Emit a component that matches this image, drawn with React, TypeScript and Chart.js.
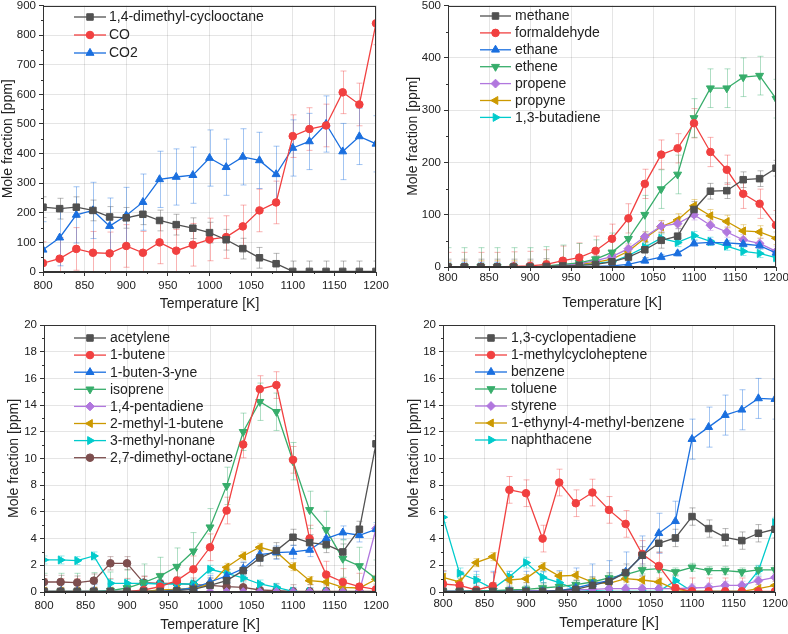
import React, { useEffect, useRef } from 'react';
import { Chart, registerables } from 'chart.js';
Chart.register(...registerables);
Chart.defaults.font.family = "'Liberation Sans', Arial, sans-serif";
Chart.defaults.color = '#222';

const temps = [800, 820, 840, 860, 880, 900, 920, 940, 960, 980, 1000, 1020, 1040, 1060, 1080, 1100, 1120, 1140, 1160, 1180, 1200];

// Panel 1
const p1Names = ['1,4-dimethyl-cyclooctane', 'CO', 'CO2'];
const dimethylCyclooctane = [219, 214, 219, 208, 186, 183, 195, 174, 160, 148, 133, 109, 79, 48, 28, 2, 2, 2, 2, 2, 2];
const co = [30, 45, 78, 65, 63, 88, 65, 100, 72, 92, 110, 118, 154, 208, 235, 459, 483, 495, 607, 566, 840];
const co2 = [75, 116, 193, 208, 155, 191, 236, 313, 321, 327, 385, 354, 389, 377, 330, 419, 441, 500, 407, 458, 433];
const p1Err = [35, 72, 95];

// Panel 2
const p2Names = ['methane', 'formaldehyde', 'ethane', 'ethene', 'propene', 'propyne', '1,3-butadiene'];
const methane = [0, 0, 0, 0, 0, 0, 1, 2, 3, 5, 10, 19, 33, 51, 59, 110, 145, 146, 167, 169, 189];
const formaldehyde = [0, 0, 0, 0, 1, 2, 5, 12, 18, 31, 54, 93, 159, 215, 227, 275, 220, 186, 140, 121, 80];
const ethane = [0, 0, 0, 0, 0, 0, 0, 0, 1, 1, 2, 5, 12, 19, 26, 45, 47, 46, 44, 41, 27];
const ethene = [0, 0, 0, 0, 0, 0, 2, 5, 8, 15, 28, 54, 100, 149, 177, 285, 342, 342, 363, 366, 322];
const propene = [0, 0, 0, 0, 0, 0, 1, 4, 6, 12, 20, 35, 58, 78, 83, 100, 80, 67, 52, 45, 30];
const propyne = [0, 0, 0, 0, 0, 0, 1, 3, 5, 9, 15, 30, 55, 77, 90, 117, 98, 87, 69, 67, 55];
const butadiene = [0, 0, 0, 0, 0, 0, 1, 3, 4, 7, 10, 22, 38, 55, 47, 60, 49, 40, 30, 26, 18];
const p2Err = [15, 28, 5, 37, 10, 12, 8];

// Panel 3
const p3Names = ['acetylene', '1-butene', '1-buten-3-yne', 'isoprene', '1,4-pentadiene', '2-methyl-1-butene', '3-methyl-nonane', '2,7-dimethyl-octane'];
const acetylene = [0.05, 0.05, 0.05, 0.05, 0.05, 0.05, 0.05, 0.05, 0.1, 0.2, 0.5, 0.85, 1.6, 2.55, 3.1, 4.1, 3.7, 3.55, 3.0, 4.7, 11.1];
const butene1 = [0, 0, 0, 0, 0, 0.02, 0.15, 0.4, 0.85, 1.7, 3.35, 6.1, 11.05, 15.2, 15.5, 9.9, 4.0, 1.3, 0.75, 0.4, 0.2];
const butenyne = [0.05, 0.05, 0.05, 0.05, 0.05, 0.05, 0.05, 0.05, 0.15, 0.3, 0.75, 1.2, 1.75, 2.8, 2.95, 3.0, 3.15, 4.0, 4.45, 4.25, 4.7];
const isoprene = [0, 0, 0, 0.05, 0.1, 0.3, 0.7, 1.2, 1.9, 3.05, 4.85, 7.95, 12.0, 14.25, 13.5, 9.8, 6.15, 4.65, 2.5, 1.95, 1.0];
const pentadiene = [0, 0, 0, 0, 0, 0, 0, 0, 0, 0, 0, 0, 0, 0, 0, 0, 0, 0, 0, 0.05, 4.75];
const methylButene = [0.05, 0.05, 0.05, 0.05, 0.05, 0.05, 0.05, 0.15, 0.2, 0.3, 0.55, 1.85, 2.7, 3.35, 3.0, 1.9, 0.85, 0.75, 0.35, 0.3, 0.95];
const methylNonane = [2.4, 2.4, 2.35, 2.7, 0.65, 0.65, 0.65, 0.6, 0.6, 0.6, 1.7, 1.4, 1.05, 0.6, 0.35, 0.05, 0.02, 0.02, 0.02, 0.02, 0.02];
const dimethylOctane = [0.75, 0.75, 0.7, 0.85, 2.15, 2.15, 0.7, 0.65, 0.65, 0.55, 0.5, 0.4, 0.35, 0.15, 0.1, 0.05, 0.05, 0.05, 0.05, 0.05, 0.05];
const p3Err = [0.6, 1.0, 0.5, 1.4, 0.3, 0.3, 0.3, 0.5];

// Panel 4
const p4Names = ['1,3-cyclopentadiene', '1-methylcycloheptene', 'benzene', 'toluene', 'styrene', '1-ethynyl-4-methyl-benzene', 'naphthacene'];
const cyclopentadiene = [0.05, 0.05, 0.05, 0.05, 0.05, 0.05, 0.05, 0.1, 0.2, 0.5, 0.8, 1.45, 2.75, 3.65, 4.05, 5.65, 4.75, 4.1, 3.85, 4.4, 4.7];
const methylcycloheptene = [0.6, 0.5, 0.15, 0.45, 7.65, 7.4, 4.0, 8.2, 6.65, 7.45, 6.15, 5.1, 2.85, 1.95, 0.3, 0.05, 0.05, 0.05, 0.05, 0.05, 0.05];
const benzene = [0.05, 0.05, 0.05, 0.05, 0.05, 0.05, 0.05, 0.1, 0.3, 0.6, 0.85, 1.5, 2.7, 4.4, 5.3, 11.45, 12.35, 13.25, 13.65, 14.5, 14.45];
const toluene = [0.05, 0.05, 0.1, 0.1, 0.15, 0.2, 0.3, 0.4, 0.55, 0.75, 1.05, 1.3, 1.65, 1.75, 1.5, 1.85, 1.6, 1.6, 1.5, 1.65, 1.65];
const styrene = [0.05, 0.05, 0.05, 0.05, 0.1, 0.1, 0.1, 0.1, 0.15, 0.2, 0.25, 0.25, 0.25, 0.25, 0.25, 0.3, 0.35, 0.5, 0.5, 0.85, 1.1];
const ethynylMethylBenzene = [1.1, 0.75, 2.2, 2.65, 0.9, 1.0, 1.9, 1.2, 1.25, 0.75, 0.65, 1.0, 0.9, 0.75, 0.2, 0.05, 0.05, 0.05, 0.05, 0.25, 0.5];
const naphthacene = [5.6, 1.4, 0.9, 0.25, 1.15, 2.2, 1.1, 0.7, 0.2, 0.1, 0.05, 0.05, 0.05, 0.05, 0.85, 0.05, 0.05, 0.05, 0.05, 1.6, 5.2];
const p4Err = [0.65, 1.0, 1.5, 0.3, 0.3, 0.3, 0.4];

// Styles
const COLORS = ['#515151', '#F14040', '#1A6FDF', '#37AD6B', '#B177DE', '#CC9900', '#00CBCC', '#7D4E4E'];
const MARKERS: { style: string; rot: number; r: number }[] = [
  { style: 'rect', rot: 0, r: 4.6 },
  { style: 'circle', rot: 0, r: 3.8 },
  { style: 'triangle', rot: 0, r: 4.6 },
  { style: 'triangle', rot: 180, r: 4.6 },
  { style: 'rectRot', rot: 0, r: 4.4 },
  { style: 'triangle', rot: 270, r: 4.6 },
  { style: 'triangle', rot: 90, r: 4.6 },
  { style: 'circle', rot: 0, r: 3.8 },
];

const W = 394;
const H = 317;

type Geom = { left: number; right: number; top: number; bottom: number; xTickPad: number; xTitlePad: number; yTitlePad: number };
type Leg = { x1: number; x2: number; tx: number; y0: number; dy: number };
type PanelCfg = { names: string[]; series: number[][]; errs: number[]; yMax: number; yStep: number; geom: Geom; legend: Leg };

const panels: { cfg: PanelCfg; left: number; top: number }[] = [
  {
    left: 0, top: 0,
    cfg: {
      names: p1Names, series: [dimethylCyclooctane, co, co2], errs: p1Err, yMax: 900, yStep: 100,
      geom: { left: 43, right: 376, top: 5, bottom: 272, xTickPad: 3, xTitlePad: 4, yTitlePad: 0 },
      legend: { x1: 74, x2: 106, tx: 109, y0: 17, dy: 18 },
    },
  },
  {
    left: 394, top: 0,
    cfg: {
      names: p2Names, series: [methane, formaldehyde, ethane, ethene, propene, propyne, butadiene], errs: p2Err, yMax: 500, yStep: 100,
      geom: { left: 54, right: 382, top: 5, bottom: 267, xTickPad: 0, xTitlePad: 5, yTitlePad: 11 },
      legend: { x1: 86, x2: 117, tx: 121, y0: 16, dy: 16.9 },
    },
  },
  {
    left: 0, top: 317,
    cfg: {
      names: p3Names, series: [acetylene, butene1, butenyne, isoprene, pentadiene, methylButene, methylNonane, dimethylOctane], errs: p3Err, yMax: 20, yStep: 2,
      geom: { left: 44, right: 376, top: 8, bottom: 275, xTickPad: 3, xTitlePad: 0, yTitlePad: 6 },
      legend: { x1: 74, x2: 106, tx: 110, y0: 21, dy: 17.1 },
    },
  },
  {
    left: 394, top: 317,
    cfg: {
      names: p4Names, series: [cyclopentadiene, methylcycloheptene, benzene, toluene, styrene, ethynylMethylBenzene, naphthacene], errs: p4Err, yMax: 20, yStep: 2,
      geom: { left: 49, right: 381, top: 8, bottom: 275, xTickPad: 1, xTitlePad: 2, yTitlePad: 12 },
      legend: { x1: 81, x2: 113, tx: 117, y0: 21, dy: 17 },
    },
  },
];

function rgba(hex: string, a: number) {
  const n = parseInt(hex.slice(1), 16);
  return `rgba(${(n >> 16) & 255},${(n >> 8) & 255},${n & 255},${a})`;
}

function drawMarker(ctx: CanvasRenderingContext2D, style: string, rot: number, x: number, y: number, r: number, color: string) {
  ctx.save();
  ctx.fillStyle = color;
  ctx.strokeStyle = color;
  ctx.lineWidth = 1;
  ctx.beginPath();
  if (style === 'circle') {
    ctx.arc(x, y, r, 0, Math.PI * 2);
  } else if (style === 'rect') {
    const s = r * Math.SQRT1_2;
    ctx.rect(x - s, y - s, 2 * s, 2 * s);
  } else if (style === 'rectRot') {
    ctx.moveTo(x, y - r);
    ctx.lineTo(x + r, y);
    ctx.lineTo(x, y + r);
    ctx.lineTo(x - r, y);
    ctx.closePath();
  } else {
    let rad = (rot * Math.PI) / 180;
    ctx.moveTo(x + Math.sin(rad) * r, y - Math.cos(rad) * r);
    rad += (2 * Math.PI) / 3;
    ctx.lineTo(x + Math.sin(rad) * r, y - Math.cos(rad) * r);
    rad += (2 * Math.PI) / 3;
    ctx.lineTo(x + Math.sin(rad) * r, y - Math.cos(rad) * r);
    ctx.closePath();
  }
  ctx.fill();
  ctx.stroke();
  ctx.restore();
}

function makePlugin(cfg: PanelCfg) {
  return {
    id: 'decor',
    beforeDatasetsDraw(chart: any) {
      const { ctx, chartArea } = chart;
      const ys = chart.scales.y;
      ctx.save();
      ctx.beginPath();
      ctx.rect(chartArea.left, chartArea.top, chartArea.right - chartArea.left, chartArea.bottom - chartArea.top);
      ctx.clip();
      cfg.series.forEach((s, i) => {
        const meta = chart.getDatasetMeta(i);
        const e = cfg.errs[i];
        ctx.strokeStyle = rgba(COLORS[i], 0.4);
        ctx.lineWidth = 1;
        s.forEach((v, j) => {
          const pt = meta.data[j];
          if (!pt) return;
          const x = Math.round(pt.x) + 0.5;
          const yt = ys.getPixelForValue(v + e);
          const yb = ys.getPixelForValue(v - e);
          ctx.beginPath();
          ctx.moveTo(x, yt);
          ctx.lineTo(x, yb);
          ctx.moveTo(x - 3, yt);
          ctx.lineTo(x + 3, yt);
          ctx.moveTo(x - 3, yb);
          ctx.lineTo(x + 3, yb);
          ctx.stroke();
        });
      });
      ctx.restore();
    },
    afterDraw(chart: any) {
      const { ctx, chartArea } = chart;
      const xs = chart.scales.x;
      const ys = chart.scales.y;
      ctx.save();
      // frame
      ctx.strokeStyle = '#333';
      ctx.lineWidth = 1;
      const l = Math.round(chartArea.left) + 0.5;
      const t = Math.round(chartArea.top) + 0.5;
      const r = Math.round(chartArea.right) - 0.5;
      const b = Math.round(chartArea.bottom) - 0.5;
      ctx.strokeRect(l, t, r - l, b - t);
      // minor ticks
      ctx.beginPath();
      for (let v = 825; v < 1200; v += 50) {
        const px = Math.round(xs.getPixelForValue(v)) + 0.5;
        ctx.moveTo(px, b);
        ctx.lineTo(px, b + 2.5);
      }
      for (let v = cfg.yStep / 2; v < cfg.yMax; v += cfg.yStep) {
        const py = Math.round(ys.getPixelForValue(v)) + 0.5;
        ctx.moveTo(l, py);
        ctx.lineTo(l - 2.5, py);
      }
      ctx.stroke();
      // legend
      const lg = cfg.legend;
      ctx.font = "14px 'Liberation Sans', Arial, sans-serif";
      ctx.textBaseline = 'middle';
      ctx.textAlign = 'left';
      cfg.names.forEach((name, i) => {
        const y = lg.y0 + i * lg.dy;
        ctx.strokeStyle = COLORS[i];
        ctx.lineWidth = 1.3;
        ctx.beginPath();
        ctx.moveTo(lg.x1, y);
        ctx.lineTo(lg.x2, y);
        ctx.stroke();
        const m = MARKERS[i];
        drawMarker(ctx, m.style, m.rot, (lg.x1 + lg.x2) / 2, y, m.r, COLORS[i]);
        ctx.fillStyle = '#222';
        ctx.fillText(name, lg.tx, y + 0.5);
      });
      ctx.restore();
    },
  };
}

function buildConfig(cfg: PanelCfg): any {
  const g = cfg.geom;
  const datasets = cfg.series.map((s, i) => ({
    label: cfg.names[i],
    data: temps.map((t, j) => ({ x: t, y: s[j] })),
    borderColor: COLORS[i],
    backgroundColor: COLORS[i],
    pointBackgroundColor: COLORS[i],
    pointBorderColor: COLORS[i],
    pointStyle: MARKERS[i].style,
    rotation: MARKERS[i].rot,
    pointRadius: MARKERS[i].r,
    pointBorderWidth: 1,
    borderWidth: 1.3,
    tension: 0,
    clip: 0,
  }));
  const fmt = (v: any) => String(v);
  return {
    type: 'line',
    data: { datasets },
    options: {
      animation: false,
      responsive: false,
      devicePixelRatio: 1,
      layout: { padding: { left: 0, top: g.top, right: W - g.right, bottom: 0 } },
      plugins: { legend: { display: false }, tooltip: { enabled: false } },
      scales: {
        x: {
          type: 'linear',
          min: 800,
          max: 1200,
          ticks: { stepSize: 50, font: { size: 11.5 }, color: '#222', padding: g.xTickPad, maxRotation: 0, autoSkip: false, callback: fmt },
          grid: { color: 'rgba(0,0,0,0.1)', tickColor: '#333', tickLength: 4 },
          border: { color: '#333', width: 1 },
          title: { display: true, text: 'Temperature [K]', font: { size: 14 }, color: '#222', padding: { top: 0, bottom: g.xTitlePad } },
          afterFit: (a: any) => {
            a.height = H - g.bottom;
            a.paddingLeft = 0;
            a.paddingRight = 0;
          },
        },
        y: {
          type: 'linear',
          min: 0,
          max: cfg.yMax,
          ticks: { stepSize: cfg.yStep, font: { size: 11.5 }, color: '#222', padding: 3, callback: fmt },
          grid: { color: 'rgba(0,0,0,0.1)', tickColor: '#333', tickLength: 4 },
          border: { color: '#333', width: 1 },
          title: { display: true, text: 'Mole fraction [ppm]', font: { size: 14 }, color: '#222', padding: { top: g.yTitlePad, bottom: 0 } },
          afterFit: (a: any) => {
            a.width = g.left;
            a.paddingTop = 0;
            a.paddingBottom = 0;
          },
        },
      },
    },
    plugins: [makePlugin(cfg)],
  };
}

function Panel({ cfg, left, top }: { cfg: PanelCfg; left: number; top: number }) {
  const ref = useRef<HTMLCanvasElement>(null);
  useEffect(() => {
    const chart = new Chart(ref.current as HTMLCanvasElement, buildConfig(cfg));
    return () => chart.destroy();
  }, [cfg]);
  return (
    <canvas
      ref={ref}
      width={W}
      height={H}
      style={{ position: 'absolute', left, top, width: W, height: H }}
    />
  );
}

export default function App() {
  return (
    <div style={{ position: 'absolute', left: 0, top: 0, width: 788, height: 634, background: '#fff' }}>
      {panels.map((p, i) => (
        <Panel key={i} cfg={p.cfg} left={p.left} top={p.top} />
      ))}
    </div>
  );
}
